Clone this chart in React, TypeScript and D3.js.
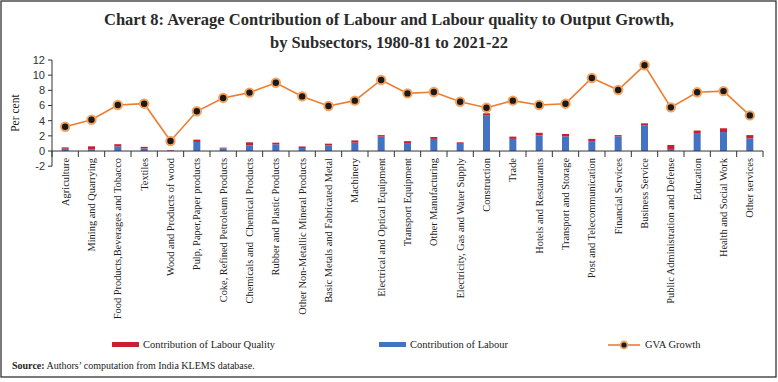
import React from "react";
import * as d3 from "d3";

const categories = [
  "Agriculture",
  "Mining and Quarrying",
  "Food Products,Beverages and Tobacco",
  "Textiles",
  "Wood and Products of wood",
  "Pulp, Paper,Paper products",
  "Coke, Refined Petroleum Products",
  "Chemicals and  Chemical Products",
  "Rubber and Plastic Products",
  "Other Non-Metallic Mineral Products",
  "Basic Metals and Fabricated Metal",
  "Machinery",
  "Electrical and Optical Equipment",
  "Transport Equipment",
  "Other Manufacturing",
  "Electricity, Gas and Water Supply",
  "Construction",
  "Trade",
  "Hotels and Restaurants",
  "Transport and Storage",
  "Post and Telecommunication",
  "Financial Services",
  "Business Service",
  "Public Administration and Defense",
  "Education",
  "Health and Social Work",
  "Other services",
];

const labourContribution = [
  0.3, 0.22, 0.6, 0.35, 0.03, 1.2, 0.35, 0.75, 0.88, 0.4, 0.75, 1.1, 1.9, 1.05,
  1.6, 0.95, 4.66, 1.6, 2.07, 1.93, 1.3, 1.93, 3.4, 0.27, 2.37, 2.5, 1.67,
];

const labourQuality = [
  0.18, 0.4, 0.3, 0.2, 0.08, 0.3, 0.1, 0.4, 0.22, 0.2, 0.22, 0.3, 0.2, 0.25,
  0.25, 0.2, 0.31, 0.3, 0.33, 0.32, 0.3, 0.17, 0.25, 0.53, 0.33, 0.5, 0.43,
];

const gvaGrowth = [
  3.2, 4.13, 6.07, 6.24, 1.32, 5.24, 7.0, 7.7, 9.0, 7.2, 5.94, 6.64, 9.37, 7.6,
  7.78, 6.5, 5.7, 6.64, 6.07, 6.24, 9.63, 8.05, 11.3, 5.76, 7.74, 7.9, 4.7,
];

const yTicks = [-2, 0, 2, 4, 6, 8, 10, 12];

const titleLines = [
  "Chart 8: Average Contribution of Labour and Labour quality to Output Growth,",
  "by Subsectors, 1980-81 to 2021-22",
];

const BLUE = "#4472C4";
const RED = "#C8202E";
const ORANGE = "#ED7D31";
const SERIF = "'Liberation Serif', 'DejaVu Serif', serif";
const SANS = "'Liberation Sans', Arial, sans-serif";

export default function App() {
  const W = 778;
  const H = 382;
  const x = d3.scaleBand<string>().domain(categories).range([52, 763]).padding(0);
  const y = d3.scaleLinear().domain([-2, 12]).range([166.2, 60]);
  const bw = 7;
  const cx = (c: string) => (x(c) as number) + x.bandwidth() / 2;

  const line = d3
    .line<number>()
    .x((_, i) => cx(categories[i]))
    .y((d) => y(d));

  const boundaries = categories.map((c) => x(c) as number).concat([763]);

  return (
    <svg
      width={W}
      height={H}
      style={{ position: "absolute", left: 0, top: 0, background: "#fff" }}
    >
      <rect x={1} y={1} width={775} height={376} fill="#fff" stroke="#222" strokeWidth={1.2} />
      {titleLines.map((t, i) => (
        <text
          key={i}
          x={389}
          y={25 + i * 23}
          textAnchor="middle"
          fontFamily={SERIF}
          fontWeight="bold"
          fontSize={16.5}
          fill="#2a2a2a"
        >
          {t}
        </text>
      ))}

      {/* y axis */}
      <line x1={52} x2={52} y1={y(12)} y2={y(-2)} stroke="#333" strokeWidth={1} />
      {yTicks.map((t) => (
        <g key={t}>
          <line x1={48} x2={52} y1={y(t)} y2={y(t)} stroke="#333" strokeWidth={1} />
          <text
            x={45}
            y={y(t)}
            dy="0.35em"
            textAnchor="end"
            fontFamily={SANS}
            fontSize={11}
            fill="#333"
          >
            {t}
          </text>
        </g>
      ))}
      <text
        transform={`translate(19, ${y(5)}) rotate(-90)`}
        textAnchor="middle"
        fontFamily={SERIF}
        fontSize={11.5}
        fill="#222"
      >
        Per cent
      </text>

      {/* bars */}
      {categories.map((c, i) => {
        const l = labourContribution[i];
        const q = labourQuality[i];
        return (
          <g key={c}>
            <rect
              x={cx(c) - bw / 2}
              y={y(l)}
              width={bw}
              height={y(0) - y(l)}
              fill={BLUE}
            />
            <rect
              x={cx(c) - bw / 2}
              y={y(l + q)}
              width={bw}
              height={y(l) - y(l + q)}
              fill={RED}
            />
          </g>
        );
      })}

      {/* x axis */}
      <line x1={52} x2={763} y1={y(0)} y2={y(0)} stroke="#333" strokeWidth={1} />
      {boundaries.map((b, i) => (
        <line key={i} x1={b} x2={b} y1={y(0)} y2={y(0) + 6} stroke="#333" strokeWidth={1} />
      ))}
      {categories.map((c) => (
        <text
          key={c}
          transform={`translate(${cx(c)}, 158) rotate(-90)`}
          dy="0.35em"
          textAnchor="end"
          fontFamily={SERIF}
          fontSize={10.4}
          fill="#222"
          style={{ whiteSpace: "pre" }}
        >
          {c}
        </text>
      ))}

      {/* GVA line */}
      <path d={line(gvaGrowth) || ""} fill="none" stroke={ORANGE} strokeWidth={1.6} />
      {gvaGrowth.map((v, i) => (
        <circle
          key={i}
          cx={cx(categories[i])}
          cy={y(v)}
          r={4.2}
          fill="#1a1a1a"
          stroke="#F4A25E"
          strokeWidth={2}
        />
      ))}

      {/* legend */}
      <rect x={112} y={342} width={27} height={5} fill={RED} />
      <text x={143} y={348} fontFamily={SERIF} fontSize={10.5} fill="#222">
        Contribution of Labour Quality
      </text>
      <rect x={379} y={342} width={27} height={5} fill={BLUE} />
      <text x={410} y={348} fontFamily={SERIF} fontSize={10.5} fill="#222">
        Contribution of Labour
      </text>
      <line x1={608} x2={640} y1={345} y2={345} stroke={ORANGE} strokeWidth={1.6} />
      <circle cx={624} cy={345} r={3.5} fill="#1a1a1a" stroke="#F4A25E" strokeWidth={1.8} />
      <text x={645} y={348} fontFamily={SERIF} fontSize={10.5} fill="#222">
        GVA Growth
      </text>

      {/* source */}
      <text x={12} y={369} fontFamily={SERIF} fontSize={10} fill="#222">
        <tspan fontWeight="bold">Source:</tspan>
        <tspan> Authors’ computation from India KLEMS database.</tspan>
      </text>
    </svg>
  );
}
